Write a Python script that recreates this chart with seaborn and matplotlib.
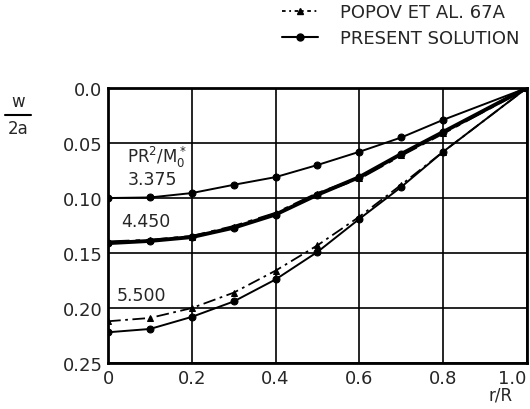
import numpy as np
import pandas as pd
import matplotlib
matplotlib.use("Agg")
import matplotlib.pyplot as plt
from matplotlib.lines import Line2D
import seaborn as sns

# r/R stations where the curves were read
r_over_R = [0.0, 0.1, 0.2, 0.3, 0.4, 0.5, 0.6, 0.7, 0.8, 1.0]

# present solution, w/2a
present_3375 = [0.100, 0.0995, 0.0955, 0.088, 0.081, 0.070, 0.058, 0.045, 0.029, 0.0]
present_4450 = [0.141, 0.139, 0.1355, 0.127, 0.115, 0.097, 0.081, 0.060, 0.040, 0.0]
present_5500 = [0.222, 0.219, 0.208, 0.194, 0.174, 0.149, 0.119, 0.090, 0.058, 0.0]

# Popov et al. 67
popov_4450 = [0.140, 0.1385, 0.135, 0.126, 0.114, 0.096, 0.082, 0.061, 0.041, 0.0]
popov_5500 = [0.212, 0.209, 0.200, 0.186, 0.166, 0.143, 0.117, 0.088, 0.058, 0.0]

x_ticks = [0.0, 0.2, 0.4, 0.6, 0.8, 1.0]
x_tick_labels = ["0", "0.2", "0.4", "0.6", "0.8", "1.0"]
y_ticks = [0.0, 0.05, 0.10, 0.15, 0.20, 0.25]
y_tick_labels = ["0.0", "0.05", "0.10", "0.15", "0.20", "0.25"]

sns.set_style("white")
plt.rcParams["font.family"] = ["DejaVu Sans"]

fig = plt.figure(figsize=(5.3, 4.1), dpi=100)
ax = fig.add_axes([0.204, 0.112, 0.790, 0.671])

# solution curves
for vals, lw in [(present_3375, 1.4), (present_4450, 2.8), (present_5500, 1.4)]:
    sns.lineplot(x=r_over_R, y=vals, ax=ax, color="black", lw=lw,
                 marker="o", markersize=5, markeredgecolor="black")

sns.lineplot(x=r_over_R, y=popov_4450, ax=ax, color="black", lw=2.2,
             linestyle=(0, (7, 2, 1.5, 2)), marker="^", markersize=4,
             markeredgecolor="black")
sns.lineplot(x=r_over_R, y=popov_5500, ax=ax, color="black", lw=1.3,
             linestyle=(0, (7, 2.5, 1.5, 2.5)), marker="^", markersize=5,
             markeredgecolor="black")

ax.set_xlim(0, 1.0)
ax.set_ylim(0.25, 0.0)
ax.set_xticks(x_ticks)
ax.set_xticklabels(x_tick_labels, fontsize=13)
ax.get_xticklabels()[-1].set_horizontalalignment("right")
ax.set_yticks(y_ticks)
ax.set_yticklabels(y_tick_labels, fontsize=13)
ax.tick_params(length=0, pad=4)
ax.grid(True, color="black", lw=1.2)
for s in ax.spines.values():
    s.set_linewidth(2)
    s.set_color("black")

# curve annotations
ax.text(0.115, 0.062, r"PR$^2$/M$_0^*$", fontsize=12, ha="center", va="center")
ax.text(0.105, 0.083, "3.375", fontsize=12.5, ha="center", va="center")
ax.text(0.09, 0.121, "4.450", fontsize=12.5, ha="center", va="center")
ax.text(0.08, 0.188, "5.500", fontsize=12.5, ha="center", va="center")

# axis labels
fig.text(0.035, 0.752, "w", fontsize=12, ha="center", va="center")
fig.add_artist(Line2D([0.010, 0.058], [0.716, 0.716], color="black", lw=1.5))
fig.text(0.035, 0.685, "2a", fontsize=12, ha="center", va="center")
fig.text(0.945, 0.035, "r/R", fontsize=12, ha="center", va="center")

handles = [
    Line2D([], [], color="black", lw=1.3, linestyle=(0, (2, 2, 1, 2)), marker="^", markersize=5),
    Line2D([], [], color="black", lw=1.5, marker="o", markersize=5),
]
fig.legend(handles, ["POPOV ET AL. 67A", "PRESENT SOLUTION"], loc="upper right",
           bbox_to_anchor=(1.01, 1.03), frameon=False, fontsize=13, handlelength=2.0,
           handletextpad=1.2, labelspacing=0.45)

fig.savefig("out.png", dpi=100, facecolor="white")
